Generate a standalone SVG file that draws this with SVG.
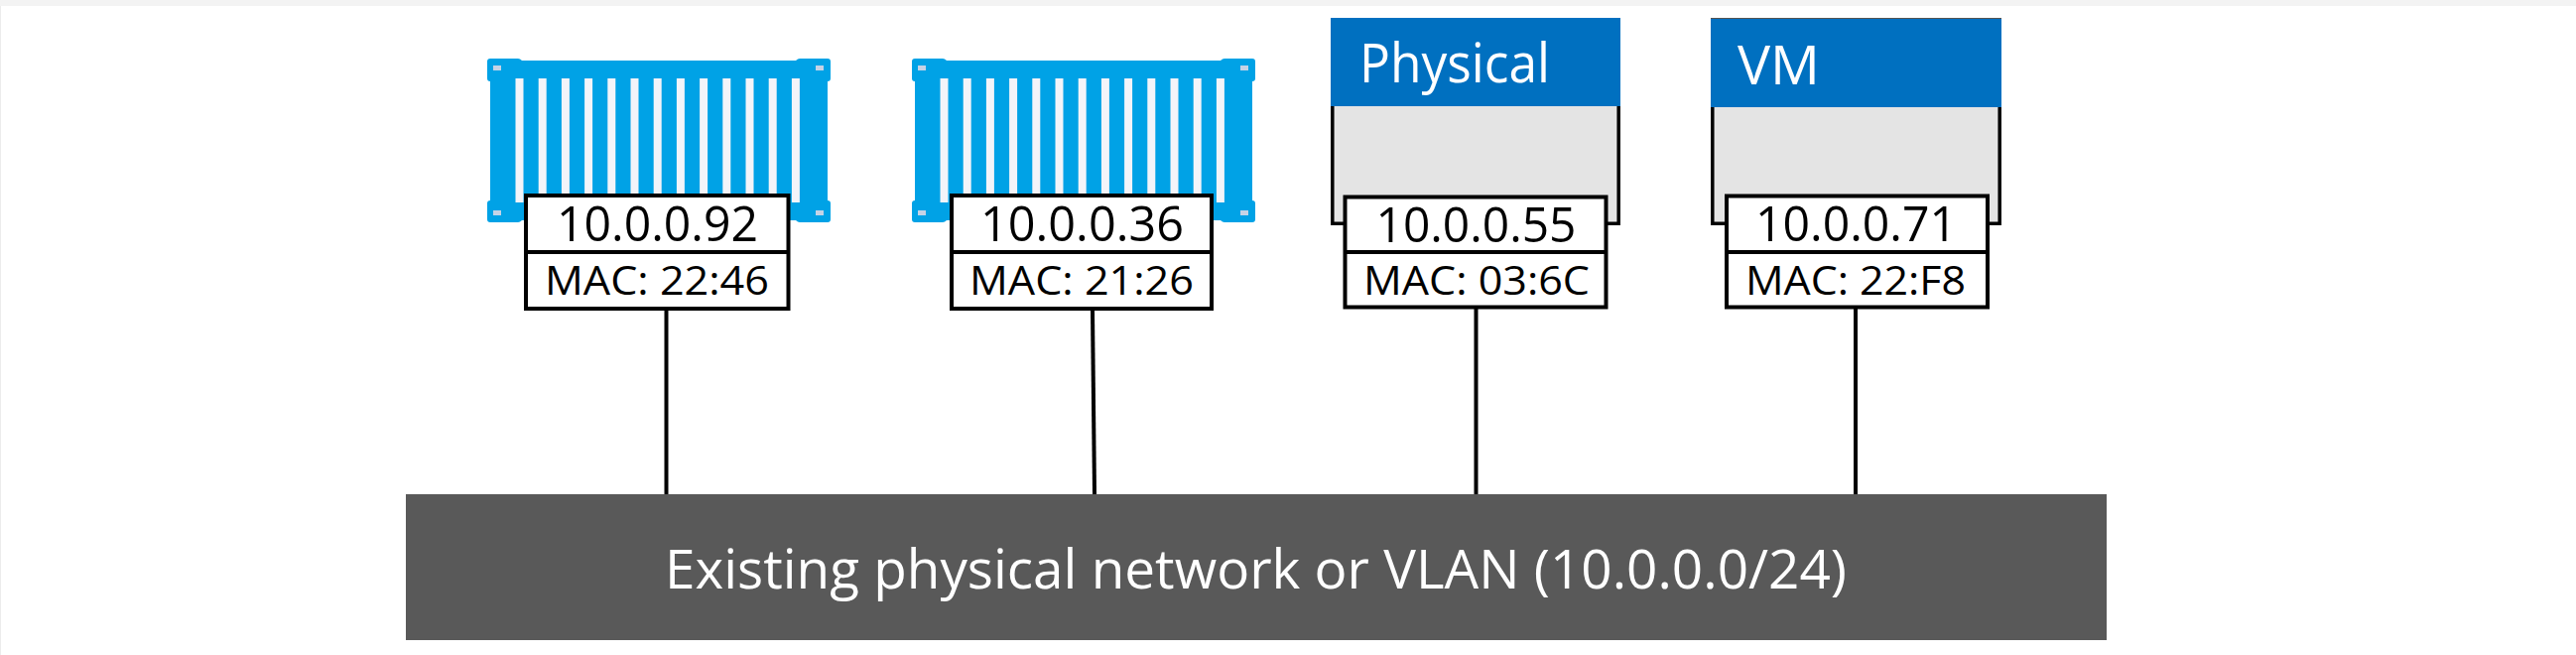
<svg xmlns="http://www.w3.org/2000/svg" width="2596" height="660" viewBox="0 0 2596 660">
<style>
.t{font-family:"Open Sans","Noto Sans",sans-serif;}
.ip{font-size:49px;fill:#000;text-anchor:middle;}
.mac{font-size:41px;fill:#000;text-anchor:middle;}
.hd{font-size:54px;fill:#fff;}
.box{fill:#fff;stroke:#000;stroke-width:4;}
.ln{stroke:#000;stroke-width:4;fill:none;}
.c{fill:#00a2e6;}
.s{fill:#f3f4f9;}
.k{fill:#c5d3e6;}
.hdr{fill:#0070c0;}
.bdf{fill:#e4e4e4;}
.bd{fill:none;stroke:#000;stroke-width:3.5;}
</style>
<defs>
<g id="container">
<path class="c" d="M3 0H31Q33 0 35 2H311Q313 0 315 0H343Q346 0 346 3V20Q346 23 343 23V143Q346 143 346 146V162Q346 165 343 165H315Q313 165 311 163H35Q33 165 31 165H3Q0 165 0 162V146Q0 143 3 143V23Q0 23 0 20V3Q0 0 3 0Z"/>
<g class="s">
<rect x="28.500" y="20" width="8" height="125"/><rect x="51.700" y="20" width="8" height="125"/><rect x="74.900" y="20" width="8" height="125"/><rect x="98.100" y="20" width="8" height="125"/><rect x="121.300" y="20" width="8" height="125"/><rect x="144.500" y="20" width="8" height="125"/><rect x="167.700" y="20" width="8" height="125"/><rect x="190.900" y="20" width="8" height="125"/><rect x="214.100" y="20" width="8" height="125"/><rect x="237.300" y="20" width="8" height="125"/><rect x="260.500" y="20" width="8" height="125"/><rect x="283.700" y="20" width="8" height="125"/><rect x="306.900" y="20" width="8" height="125"/>
</g>
<g class="k"><rect x="6" y="7" width="8" height="5"/><rect x="331" y="7" width="8" height="5"/><rect x="6" y="153" width="8" height="5"/><rect x="331" y="153" width="8" height="5"/></g>
</g>
</defs>
<rect width="2596" height="660" fill="#fff"/>
<rect width="2596" height="6" fill="#f3f3f3"/>
<rect x="0" y="6" width="1" height="654" fill="#ececec"/>
<g id="connectors">
<line class="ln" x1="671.500" y1="312" x2="671.500" y2="498"/>
<line class="ln" x1="1101" y1="312" x2="1103" y2="498"/>
<line class="ln" x1="1487.500" y1="311" x2="1487.500" y2="498"/>
<line class="ln" x1="1870" y1="311" x2="1870" y2="498"/>
</g>
<g id="node-container-1">
<use href="#container" x="491" y="59"/>
<rect class="box" x="530" y="197" width="264.500" height="114"/><line class="ln" x1="530" y1="254" x2="794.500" y2="254"/>
<text class="t ip" x="662.500" y="243" textLength="203" lengthAdjust="spacingAndGlyphs">10.0.0.92</text>
<text class="t mac" x="662" y="297" textLength="226" lengthAdjust="spacingAndGlyphs">MAC: 22:46</text>
</g>
<g id="node-container-2">
<use href="#container" x="919" y="59"/>
<rect class="box" x="959" y="197" width="262" height="114"/><line class="ln" x1="959" y1="254" x2="1221" y2="254"/>
<text class="t ip" x="1090.500" y="243" textLength="205" lengthAdjust="spacingAndGlyphs">10.0.0.36</text>
<text class="t mac" x="1090" y="297" textLength="226" lengthAdjust="spacingAndGlyphs">MAC: 21:26</text>
</g>
<g id="node-physical">
<rect class="bdf" x="1341" y="107" width="292" height="120"/>
<path class="bd" d="M1342.800 107V225.300H1631.200V107"/>
<rect class="hdr" x="1341" y="18" width="292" height="89"/>
<text class="t hd" x="1370" y="83" textLength="192" lengthAdjust="spacingAndGlyphs">Physical</text>
<rect class="box" x="1355.500" y="198.500" width="263" height="111"/><line class="ln" x1="1355.500" y1="254" x2="1618.500" y2="254"/>
<text class="t ip" x="1487.500" y="244" textLength="202" lengthAdjust="spacingAndGlyphs">10.0.0.55</text>
<text class="t mac" x="1488" y="297" textLength="228" lengthAdjust="spacingAndGlyphs">MAC: 03:6C</text>
</g>
<g id="node-vm">
<rect class="bdf" x="1724" y="108" width="293" height="119"/>
<path class="bd" d="M1725.800 108V225.300H2015.200V108"/>
<rect class="hdr" x="1724" y="18" width="293" height="90"/>
<rect x="1724" y="18" width="293" height="1" fill="#555"/>
<text class="t hd" x="1751" y="85" textLength="83" lengthAdjust="spacingAndGlyphs">VM</text>
<rect class="box" x="1740" y="197.500" width="263" height="112"/><line class="ln" x1="1740" y1="254" x2="2003" y2="254"/>
<text class="t ip" x="1870.500" y="243" textLength="203" lengthAdjust="spacingAndGlyphs">10.0.0.71</text>
<text class="t mac" x="1870" y="297" textLength="222" lengthAdjust="spacingAndGlyphs">MAC: 22:F8</text>
</g>
<g id="node-network">
<rect x="409" y="498" width="1714" height="147" fill="#595959"/>
<text class="t" x="670" y="593" font-size="55" fill="#fff" textLength="1191" lengthAdjust="spacingAndGlyphs">Existing physical network or VLAN (10.0.0.0/24)</text>
</g>
</svg>
